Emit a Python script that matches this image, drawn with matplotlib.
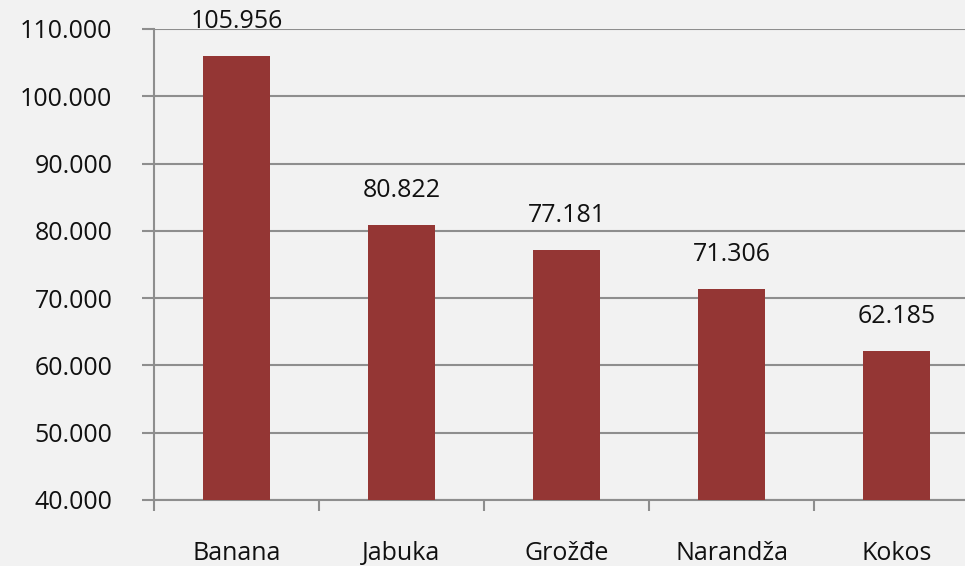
import matplotlib.pyplot as plt
import numpy as np

plt.rcParams['font.family'] = ['Open Sans', 'DejaVu Sans']

fruits = ['Banana', 'Jabuka', 'Grožđe', 'Narandža', 'Kokos']
amounts = [105.956, 80.822, 77.181, 71.306, 62.185]
yticks = [40, 50, 60, 70, 80, 90, 100, 110]

bg = '#f2f2f2'
grid_col = '#8e8e8e'
fs = 18

fig = plt.figure(figsize=(9.65, 5.66), dpi=100, facecolor=bg)
# axes run slightly past the right edge, like the original
ax = fig.add_axes([154/965, 66/566, 825/965, 471/566], facecolor=bg)

x = np.arange(len(fruits))
bars = ax.bar(x, [a - 40 for a in amounts], bottom=40, width=0.41,
              color='#943634', zorder=3)

for xi, a in zip(x, amounts):
    ax.annotate('%.3f' % a, (xi, a), xytext=(0, 16), textcoords='offset points',
                ha='center', va='bottom', fontsize=fs, color='#111111')

ax.set_xlim(-0.5, len(fruits) - 0.5)
ax.set_ylim(40, 110)
ax.set_yticks(yticks)
ax.set_yticklabels(['%d.000' % v for v in yticks])
ax.yaxis.grid(True, color=grid_col, linewidth=1.5, zorder=0)

ax.set_xticks(x)
ax.set_xticklabels(fruits)
ax.set_xticks(np.arange(len(fruits) + 1) - 0.5, minor=True)
ax.tick_params(axis='x', which='major', length=0, pad=43, labelsize=fs, labelcolor='#111111')
ax.tick_params(axis='x', which='minor', length=8, width=1.5, color=grid_col)
ax.tick_params(axis='y', length=9, width=1.5, color=grid_col, pad=21, labelsize=fs,
               labelcolor='#111111')
# line the category names up on one baseline
for lab in ax.get_xticklabels():
    lab.set_va('baseline')

for s in ['top', 'right']:
    ax.spines[s].set_visible(False)
for s in ['left', 'bottom']:
    ax.spines[s].set_color(grid_col)
    ax.spines[s].set_linewidth(1.5)

fig.savefig('out.png', dpi=100, facecolor=bg)
